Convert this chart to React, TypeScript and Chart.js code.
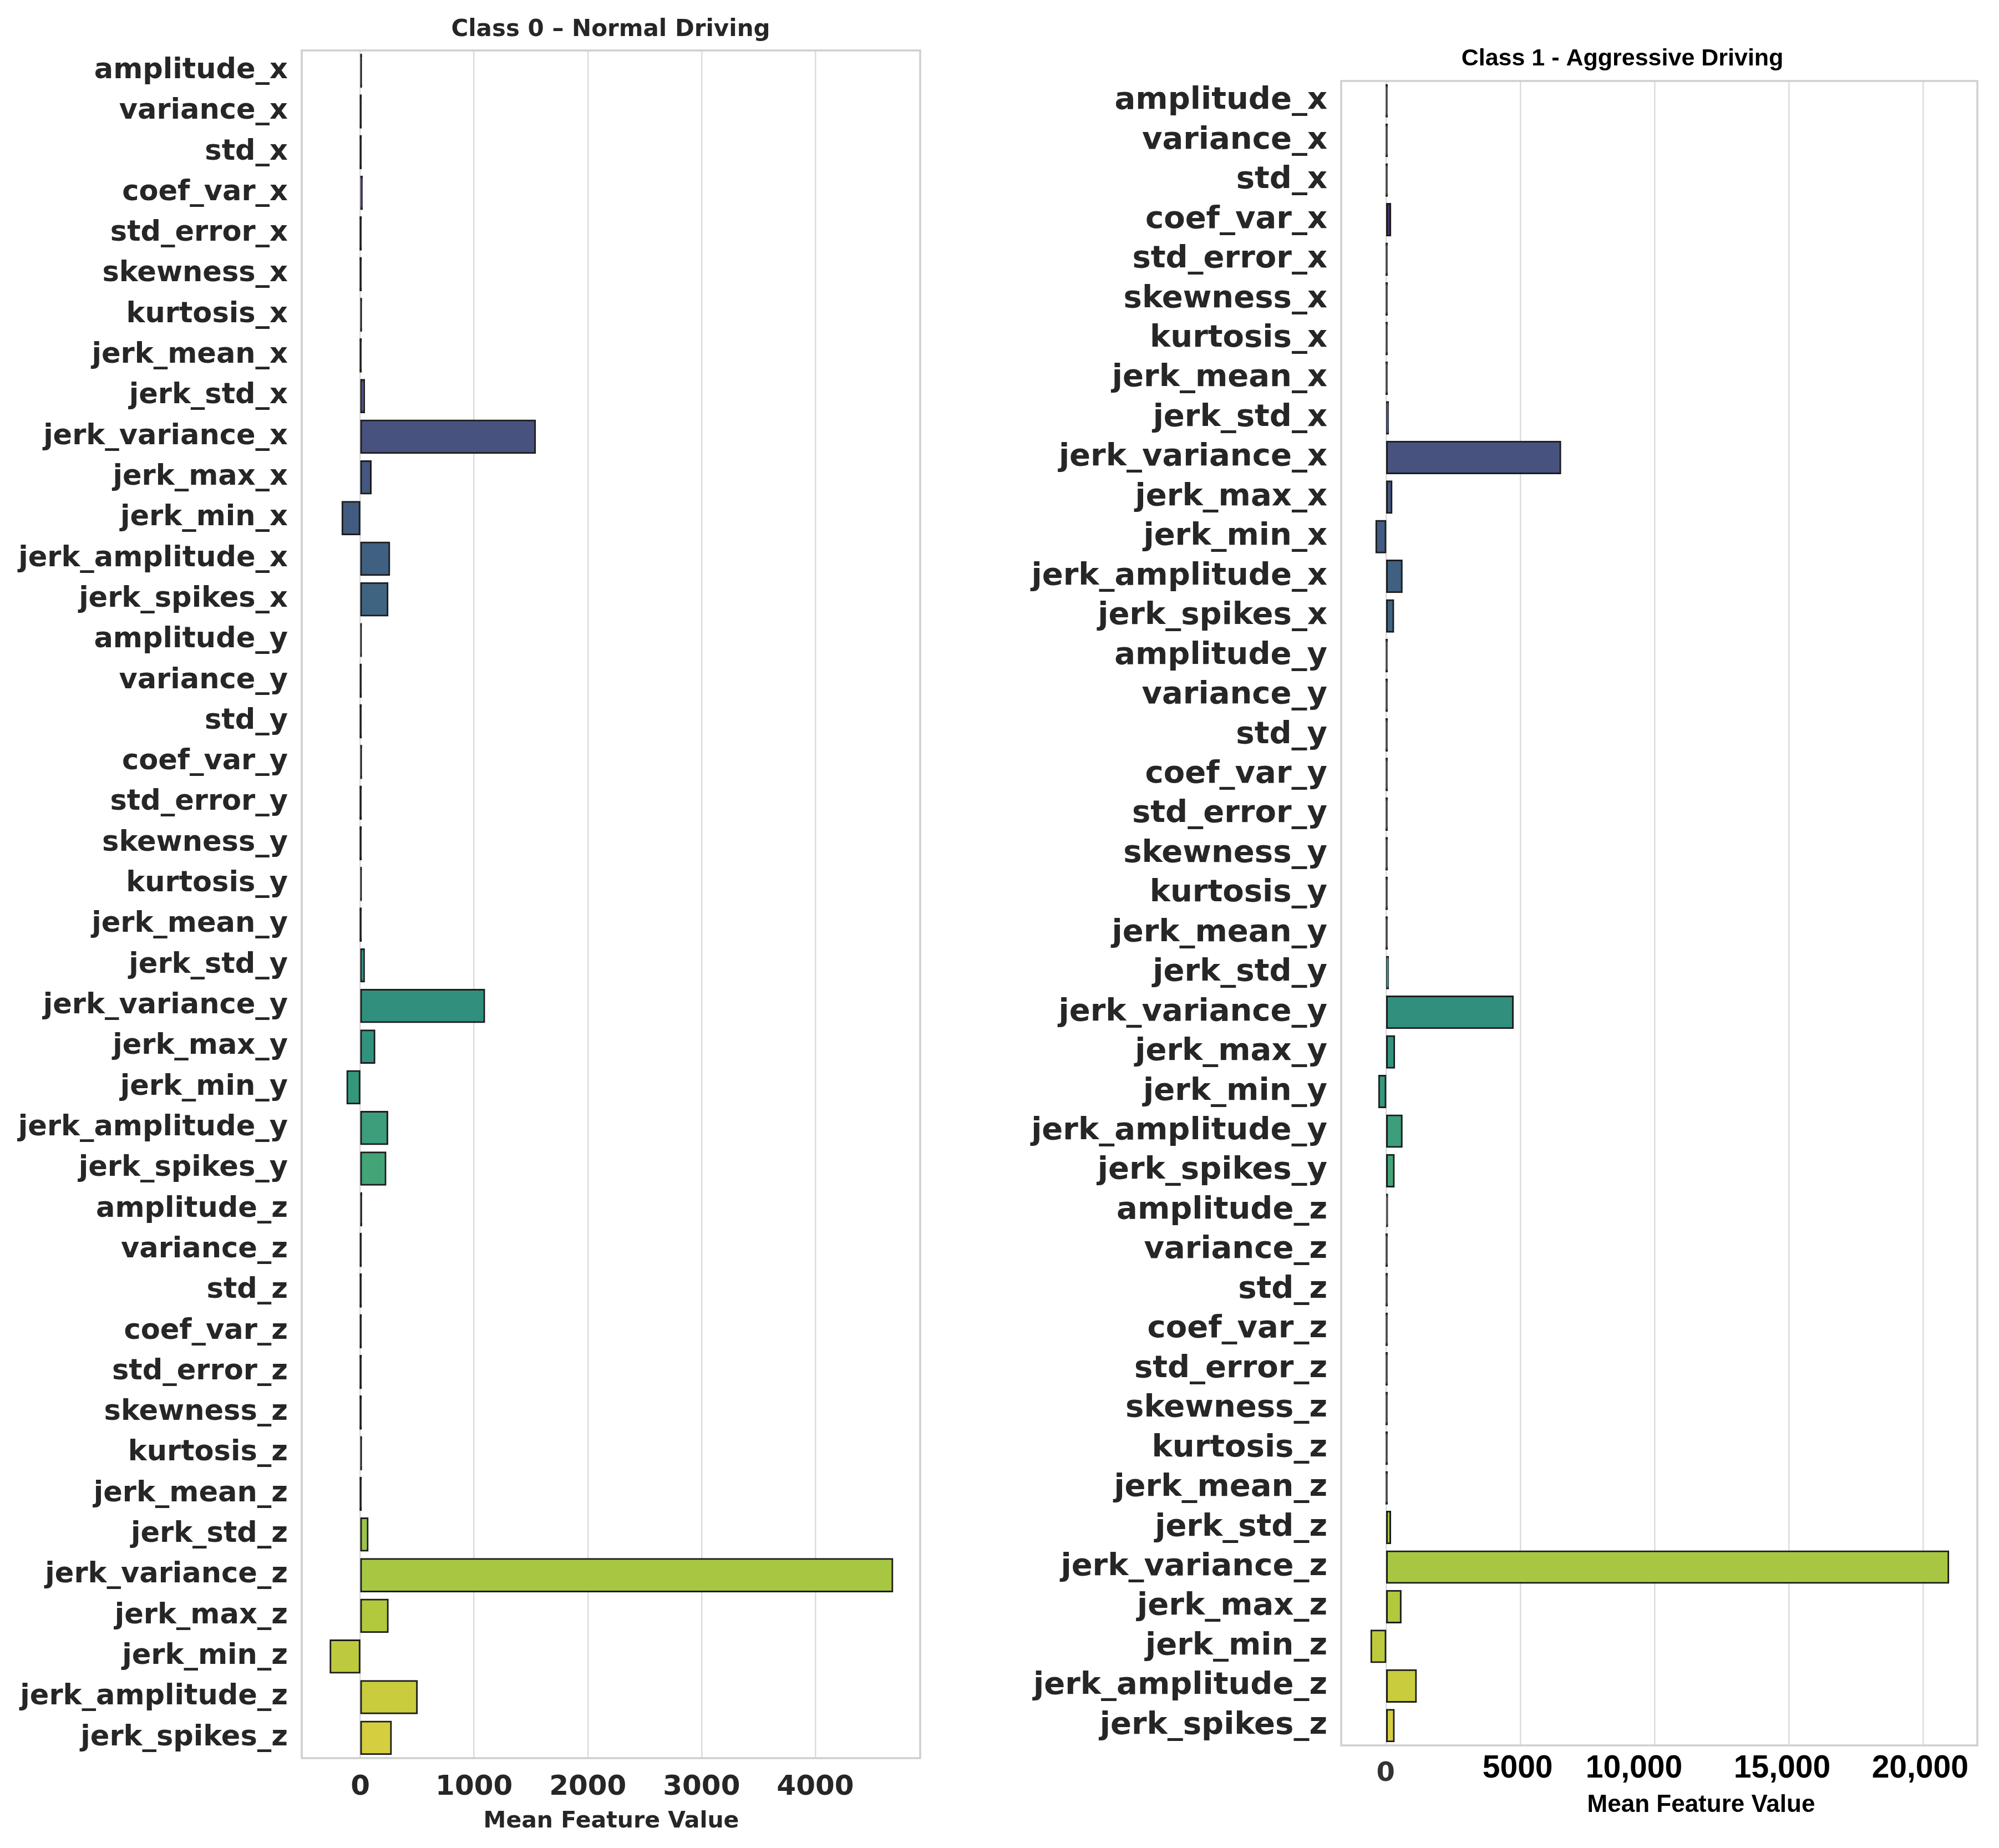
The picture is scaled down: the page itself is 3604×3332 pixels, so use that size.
import { useEffect, useRef } from "react";
import { Chart, registerables } from "chart.js";

Chart.register(...registerables);

// ---- data ----
const FEATURES = [
  "amplitude_x", "variance_x", "std_x", "coef_var_x", "std_error_x", "skewness_x", "kurtosis_x",
  "jerk_mean_x", "jerk_std_x", "jerk_variance_x", "jerk_max_x", "jerk_min_x", "jerk_amplitude_x", "jerk_spikes_x",
  "amplitude_y", "variance_y", "std_y", "coef_var_y", "std_error_y", "skewness_y", "kurtosis_y",
  "jerk_mean_y", "jerk_std_y", "jerk_variance_y", "jerk_max_y", "jerk_min_y", "jerk_amplitude_y", "jerk_spikes_y",
  "amplitude_z", "variance_z", "std_z", "coef_var_z", "std_error_z", "skewness_z", "kurtosis_z",
  "jerk_mean_z", "jerk_std_z", "jerk_variance_z", "jerk_max_z", "jerk_min_z", "jerk_amplitude_z", "jerk_spikes_z",
];

// Class 0 – Normal Driving (mean feature values)
const NORMAL_VALUES = [
  8, 1, 0.5, 15, 0.1, 0.2, 8, 0.3, 34, 1537, 92, -158, 255, 240,
  7, 1, 0.5, 8, 0.1, 0.2, 7, 0.3, 33, 1090, 125, -115, 238, 222,
  9, 1, 0.5, 1, 0.1, 0.2, 8, 0.3, 65, 4678, 242, -263, 498, 270,
];

// Class 1 - Aggressive Driving (mean feature values)
const AGGRESSIVE_VALUES = [
  5, 0.5, 0.5, 155, 0.5, 0.3, 3, 0.5, 72, 6490, 200, -375, 580, 265,
  5, 0.5, 0.5, 2, 0.5, 0.3, 3, 0.5, 72, 4720, 300, -270, 580, 285,
  40, 0.5, 0.5, 1, 0.5, 0.3, 3, 0.5, 150, 20950, 540, -560, 1110, 285,
];

const NORMAL_TICKS = [0, 1000, 2000, 3000, 4000];
const NORMAL_TICK_LABELS = ["0", "1000", "2000", "3000", "4000"];
const AGGRESSIVE_TICKS = [0, 5000, 10000, 15000, 20000];
const AGGRESSIVE_TICK_LABELS = ["0", "5000", "10,000", "15,000", "20,000"];

const NORMAL_RANGE = [-515, 4922];
const AGGRESSIVE_RANGE = [-1680, 22030];

// ---- palette: viridis sampled like seaborn, then desaturated to 0.75 ----
const VIRIDIS_STOPS = [
  "#440154", "#482475", "#414487", "#355f8d", "#2a788e", "#21918c",
  "#22a884", "#44bf70", "#7ad151", "#bddf26", "#fde725",
];

function hexToRgb(h: string): number[] {
  const n = parseInt(h.slice(1), 16);
  return [(n >> 16) & 255, (n >> 8) & 255, n & 255];
}

function viridisAt(t: number): number[] {
  const seg = (VIRIDIS_STOPS.length - 1) * t;
  const i = Math.min(Math.floor(seg), VIRIDIS_STOPS.length - 2);
  const f = seg - i;
  const a = hexToRgb(VIRIDIS_STOPS[i]);
  const b = hexToRgb(VIRIDIS_STOPS[i + 1]);
  return a.map((v, k) => v + (b[k] - v) * f);
}

function desaturate(rgb: number[], prop: number): string {
  const [r, g, b] = rgb.map((v) => v / 255);
  const mx = Math.max(r, g, b);
  const mn = Math.min(r, g, b);
  const l = (mx + mn) / 2;
  if (mx === mn) return `rgb(${rgb.map(Math.round).join(",")})`;
  const d = mx - mn;
  const s = l < 0.5 ? d / (mx + mn) : d / (2 - mx - mn);
  const s2 = s * prop;
  const d2 = l < 0.5 ? s2 * 2 * l : s2 * (2 - 2 * l);
  const mx2 = l + d2 / 2;
  const mn2 = l - d2 / 2;
  const map = (v: number) => mn2 + ((v - mn) / d) * (mx2 - mn2);
  return `rgb(${[r, g, b].map((v) => Math.round(map(v) * 255)).join(",")})`;
}

const PALETTE = FEATURES.map((_, i) =>
  desaturate(viridisAt((i + 1) / (FEATURES.length + 1)), 0.75)
);

// ---- layout / style ----
const CANVAS_H = 3332;
const X_AXIS_H = 120;
const EDGE = "#1c1c1c";
const EDGE_W = 3;
const GRID = "#dcdcdc";
const FRAME = "#cfcfcf";
const LABEL_DARK = "#262626";

type TickStyle = { font: string; color: string; baseline: number; nudge: number };

type Panel = {
  values: number[];
  ticks: number[];
  tickLabels: string[];
  tickStyles: TickStyle[];
  range: number[];
  canvasLeft: number;
  canvasWidth: number;
  area: { left: number; right: number; top: number; bottom: number };
  yFontSize: number;
  thinColor: string;
  title: string;
  titleFont: string;
  titleColor: string;
  titleX: number;
  titleY: number;
  axisTitle: string;
  axisTitleFont: string;
  axisTitleColor: string;
  axisTitleX: number;
  axisTitleY: number;
};

const NORMAL_TICK_STYLE: TickStyle = {
  font: 'bold 50px "DejaVu Sans"',
  color: LABEL_DARK,
  baseline: 3236,
  nudge: 0,
};

const AGGRESSIVE_TICK_STYLES: TickStyle[] = [
  { font: 'bold 48px "DejaVu Sans"', color: "#333333", baseline: 3211, nudge: -1 },
  { font: 'bold 57px "Liberation Sans"', color: "#000000", baseline: 3205, nudge: -5 },
  { font: 'bold 57px "Liberation Sans"', color: "#000000", baseline: 3205, nudge: -37 },
  { font: 'bold 57px "Liberation Sans"', color: "#000000", baseline: 3205, nudge: -12 },
  { font: 'bold 57px "Liberation Sans"', color: "#000000", baseline: 3205, nudge: -5 },
];

const PANELS: Panel[] = [
  {
    values: NORMAL_VALUES,
    ticks: NORMAL_TICKS,
    tickLabels: NORMAL_TICK_LABELS,
    tickStyles: NORMAL_TICKS.map(() => NORMAL_TICK_STYLE),
    range: NORMAL_RANGE,
    canvasLeft: 0,
    canvasWidth: 1760,
    area: { left: 544, right: 1659, top: 91, bottom: 3170 },
    yFontSize: 51,
    thinColor: EDGE,
    title: "Class 0 – Normal Driving",
    titleFont: 'bold 42px "DejaVu Sans"',
    titleColor: LABEL_DARK,
    titleX: 1101,
    titleY: 65,
    axisTitle: "Mean Feature Value",
    axisTitleFont: 'bold 41px "DejaVu Sans"',
    axisTitleColor: LABEL_DARK,
    axisTitleX: 1102,
    axisTitleY: 3295,
  },
  {
    values: AGGRESSIVE_VALUES,
    ticks: AGGRESSIVE_TICKS,
    tickLabels: AGGRESSIVE_TICK_LABELS,
    tickStyles: AGGRESSIVE_TICK_STYLES,
    range: AGGRESSIVE_RANGE,
    canvasLeft: 1760,
    canvasWidth: 1844,
    area: { left: 658, right: 1805, top: 146, bottom: 3147 },
    yFontSize: 56,
    thinColor: "#4a4a4a",
    title: "Class 1 - Aggressive Driving",
    titleFont: 'bold 43px "Liberation Sans"',
    titleColor: "#000000",
    titleX: 1165,
    titleY: 118,
    axisTitle: "Mean Feature Value",
    axisTitleFont: 'bold 44px "Liberation Sans"',
    axisTitleColor: "#000000",
    axisTitleX: 1307,
    axisTitleY: 3267,
  },
];

function makeChart(canvas: HTMLCanvasElement, p: Panel): Chart {
  const decor = {
    id: "panelDecor",
    beforeDatasetsDraw(chart: any) {
      const { ctx, chartArea: a } = chart;
      ctx.save();
      ctx.strokeStyle = FRAME;
      ctx.lineWidth = 3.5;
      ctx.strokeRect(a.left, a.top, a.right - a.left, a.bottom - a.top);
      ctx.restore();
    },
    afterDraw(chart: any) {
      const { ctx } = chart;
      const xs = chart.scales.x;
      ctx.save();
      ctx.textAlign = "center";
      ctx.textBaseline = "alphabetic";
      // value-axis tick labels, one per tick of the x scale
      xs.ticks.forEach((t: any, i: number) => {
        const st = p.tickStyles[i];
        ctx.font = st.font;
        ctx.fillStyle = st.color;
        ctx.fillText(p.tickLabels[i], xs.getPixelForValue(t.value) + st.nudge, st.baseline);
      });
      ctx.font = p.titleFont;
      ctx.fillStyle = p.titleColor;
      ctx.fillText(p.title, p.titleX, p.titleY);
      ctx.font = p.axisTitleFont;
      ctx.fillStyle = p.axisTitleColor;
      ctx.fillText(p.axisTitle, p.axisTitleX, p.axisTitleY);
      ctx.restore();
    },
  };

  return new Chart(canvas, {
    type: "bar",
    data: {
      labels: FEATURES,
      datasets: [
        {
          data: p.values,
          backgroundColor: (ctx: any) => {
            const i = ctx.dataIndex ?? 0;
            const sc = ctx.chart.scales?.x;
            if (ctx.raw === undefined || !sc) return PALETTE[i];
            const w = Math.abs(sc.getPixelForValue(ctx.raw) - sc.getPixelForValue(0));
            return w < EDGE_W ? p.thinColor : PALETTE[i];
          },
          borderColor: EDGE,
          borderWidth: EDGE_W,
          borderSkipped: false,
          inflateAmount: EDGE_W / 2,
          barPercentage: 0.8,
          categoryPercentage: 1,
        } as any,
      ],
    },
    options: {
      indexAxis: "y",
      animation: false,
      responsive: false,
      maintainAspectRatio: false,
      devicePixelRatio: 1,
      layout: {
        padding: {
          left: 0,
          top: p.area.top,
          right: p.canvasWidth - p.area.right,
          bottom: CANVAS_H - p.area.bottom - X_AXIS_H,
        },
      },
      plugins: {
        legend: { display: false },
        tooltip: { enabled: false },
        title: { display: false },
      },
      scales: {
        x: {
          type: "linear",
          position: "bottom",
          min: p.range[0],
          max: p.range[1],
          afterFit: (s: any) => {
            s.height = X_AXIS_H;
          },
          afterBuildTicks: (s: any) => {
            s.ticks = p.ticks.map((v) => ({ value: v }));
          },
          grid: { color: GRID, lineWidth: 2.5, drawTicks: false },
          border: { display: false },
          ticks: { display: false, autoSkip: false, maxRotation: 0 },
        },
        y: {
          type: "category",
          afterFit: (s: any) => {
            s.width = p.area.left;
          },
          grid: { display: false, drawTicks: false },
          border: { display: false },
          ticks: {
            autoSkip: false,
            padding: 25,
            color: LABEL_DARK,
            font: { family: "DejaVu Sans", size: p.yFontSize, weight: "bold" },
          },
        },
      },
    } as any,
    plugins: [decor],
  });
}

export default function App() {
  const leftRef = useRef<HTMLCanvasElement>(null);
  const rightRef = useRef<HTMLCanvasElement>(null);

  useEffect(() => {
    const charts = [
      makeChart(leftRef.current!, PANELS[0]),
      makeChart(rightRef.current!, PANELS[1]),
    ];
    return () => charts.forEach((c) => c.destroy());
  }, []);

  return (
    <div
      style={{
        position: "absolute",
        left: 0,
        top: 0,
        width: 3604,
        height: CANVAS_H,
        background: "#ffffff",
        overflow: "hidden",
      }}
    >
      <canvas
        ref={leftRef}
        width={PANELS[0].canvasWidth}
        height={CANVAS_H}
        style={{ position: "absolute", left: PANELS[0].canvasLeft, top: 0 }}
      />
      <canvas
        ref={rightRef}
        width={PANELS[1].canvasWidth}
        height={CANVAS_H}
        style={{ position: "absolute", left: PANELS[1].canvasLeft, top: 0 }}
      />
    </div>
  );
}
